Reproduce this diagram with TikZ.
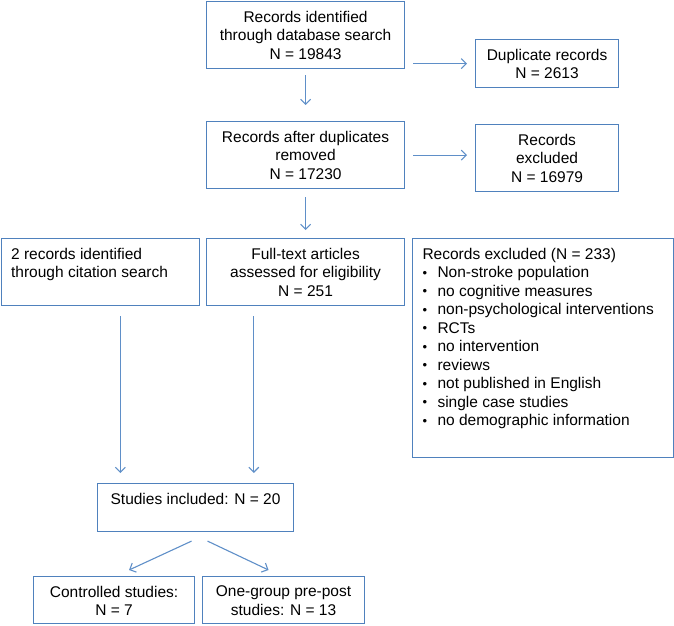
\documentclass[tikz,border=0pt]{standalone}
\usepackage{fontspec}
\setmainfont{Liberation Sans}
\usetikzlibrary{calc,arrows.meta}
\definecolor{boxblue}{RGB}{79,129,189}
\definecolor{arrowblue}{RGB}{95,143,200}
\newcommand{\boxtext}[3]{\begin{minipage}[t][#2][t]{#1}\vspace*{9.5pt}#3\end{minipage}}
\newcommand{\bul}{\makebox[15pt][l]{\raisebox{0.5pt}{\fontsize{13}{13}\selectfont•}}}
\tikzset{box/.style={draw=boxblue,line width=1.1pt,inner sep=0pt,anchor=north west,
    font=\fontsize{15.5}{18.5}\selectfont},
  flow/.style={draw=arrowblue,line width=1.1pt,-{Straight Barb[length=5pt,width=10pt]}}}

\begin{document}
\begin{tikzpicture}[x=1pt,y=-1pt]
\useasboundingbox (0,0) rectangle (674,625);
% identification
\node[box] (search) at (206,1) {\boxtext{198pt}{67pt}{\centering Records identified\\through database search\\N = 19843}};
\node[box] (dupl) at (475,39) {\boxtext{143pt}{48pt}{\centering Duplicate records\\N = 2613}};
% screening
\node[box] (after) at (206,121) {\boxtext{198pt}{67pt}{\centering Records after duplicates\\removed\\N = 17230}};
\node[box] (excl) at (475,124) {\boxtext{143pt}{67pt}{\centering Records\\excluded\\N = 16979}};
% eligibility
\node[box] (citation) at (0.6,238) {\boxtext{198.4pt}{67pt}{\raggedright\leftskip=10pt 2 records identified\\through citation search}};
\node[box] (full) at (206,238) {\boxtext{198pt}{67pt}{\centering Full-text articles\\assessed for eligibility\\N = 251}};
\node[box] (reasons) at (412,238) {\boxtext{261pt}{219pt}{\raggedright\leftskip=10pt Records excluded (N = 233)\\
  \bul Non-stroke population\\
  \bul no cognitive measures\\
  \bul non-psychological interventions\\
  \bul RCTs\\
  \bul no intervention\\
  \bul reviews\\
  \bul not published in English\\
  \bul single case studies\\
  \bul no demographic information}};
% included
\node[box] (included) at (97,483) {\boxtext{196pt}{48pt}{\centering Studies included: N = 20}};
\node[box] (controlled) at (33,576) {\boxtext{161pt}{47pt}{\centering Controlled studies:\\N = 7}};
\node[box] (onegroup) at (202,576) {\boxtext{162pt}{47pt}{\centering One-group pre-post\\studies: N = 13}};

\coordinate (c1) at ($(citation.south west)!0.6!(citation.south east)$);
\coordinate (c2) at ($(full.south west)!0.24!(full.south east)$);

\draw[flow,shorten <=8pt,shorten >=8pt] (search.east |- dupl.west) -- (dupl.west);
\draw[flow,shorten <=6pt,shorten >=16pt] (search.south) -- (after.north);
\draw[flow,shorten <=8pt,shorten >=8pt] (after.east) -- (after.east -| excl.west);
\draw[flow,shorten <=8pt,shorten >=8pt] (after.south) -- (full.north);
\draw[flow,shorten <=10pt,shorten >=10pt] (c1) -- (c1 |- included.north);
\draw[flow,shorten <=10pt,shorten >=10pt] (c2) -- (c2 |- included.north);
\draw[flow] ($(included.south)+(-4,9)$) -- ($(controlled.north)+(15,-6)$);
\draw[flow] ($(included.south)+(12,9)$) -- ($(onegroup.north)+(-15,-6)$);
\end{tikzpicture}
\end{document}
